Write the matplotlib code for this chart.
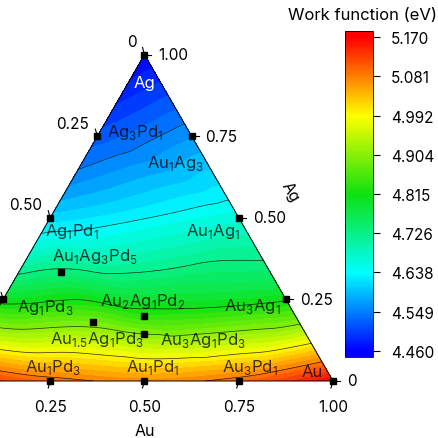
import numpy as np
import matplotlib
matplotlib.use('Agg')
import matplotlib.pyplot as plt
import matplotlib.tri as mtri
from matplotlib.colors import LinearSegmentedColormap, Normalize
from matplotlib.cm import ScalarMappable

plt.rcParams['font.family'] = ['Inter', 'DejaVu Sans']

# measured compositions (atomic ratios) and their work function (eV)
names = ['Ag', 'Ag3Pd1', 'Au1Ag3', 'Ag1Pd1', 'Au1Ag1', 'Au1Ag3Pd5', 'Ag1Pd3',
         'Au2Ag1Pd2', 'Au3Ag1', 'Au1.5Ag1Pd3', 'Au3Ag1Pd3', 'Au1Pd3', 'Au1Pd1',
         'Au3Pd1', 'Au', 'Pd']
au = [0, 0, 1, 0, 1, 1, 0, 2, 3, 1.5, 3, 1, 1, 3, 1, 0]
ag = [1, 3, 3, 1, 1, 3, 1, 1, 1, 1, 1, 0, 0, 0, 0, 0]
pd_ = [0, 1, 0, 1, 0, 5, 3, 2, 0, 3, 3, 3, 1, 1, 0, 1]
wf = [4.46, 4.52, 4.565, 4.61, 4.665, 4.735, 4.80, 4.835, 4.81, 4.885, 4.905,
      5.095, 5.07, 5.095, 5.17, 5.15]

cb_ticks = [4.460, 4.549, 4.638, 4.726, 4.815, 4.904, 4.992, 5.081, 5.170]
axis_ticks = [0, 0.25, 0.50, 0.75, 1.00]
axis_ticklabels = ['0', '0.25', '0.50', '0.75', '1.00']

# label text and offset (pixels) from the marker
label_style = {
    'Ag': (r'Ag', (0, -28), 'white'),
    'Ag3Pd1': (r'Ag$_\mathregular{3}$Pd$_\mathregular{1}$', (38, 5), 'k'),
    'Au1Ag3': (r'Au$_\mathregular{1}$Ag$_\mathregular{3}$', (-16, -26), 'k'),
    'Ag1Pd1': (r'Ag$_\mathregular{1}$Pd$_\mathregular{1}$', (22, -13), 'k'),
    'Au1Ag1': (r'Au$_\mathregular{1}$Ag$_\mathregular{1}$', (-26, -13), 'k'),
    'Au1Ag3Pd5': (r'Au$_\mathregular{1}$Ag$_\mathregular{3}$Pd$_\mathregular{5}$', (34, 17), 'k'),
    'Ag1Pd3': (r'Ag$_\mathregular{1}$Pd$_\mathregular{3}$', (42, -7), 'k'),
    'Au2Ag1Pd2': (r'Au$_\mathregular{2}$Ag$_\mathregular{1}$Pd$_\mathregular{2}$', (-2, 15), 'k'),
    'Au3Ag1': (r'Au$_\mathregular{3}$Ag$_\mathregular{1}$', (-33, -6), 'k'),
    'Au1.5Ag1Pd3': (r'Au$_\mathregular{1.5}$Ag$_\mathregular{1}$Pd$_\mathregular{3}$', (4, -17), 'k'),
    'Au3Ag1Pd3': (r'Au$_\mathregular{3}$Ag$_\mathregular{1}$Pd$_\mathregular{3}$', (58, -5), 'k'),
    'Au1Pd3': (r'Au$_\mathregular{1}$Pd$_\mathregular{3}$', (3, 14), 'k'),
    'Au1Pd1': (r'Au$_\mathregular{1}$Pd$_\mathregular{1}$', (8, 14), 'k'),
    'Au3Pd1': (r'Au$_\mathregular{3}$Pd$_\mathregular{1}$', (11, 14), 'k'),
    'Au': (r'Au', (-21, 9), 'k'),
}

# ternary -> cartesian
tot = np.array(au) + np.array(ag) + np.array(pd_)
fa = np.array(au) / tot
fg = np.array(ag) / tot
x = fa + fg / 2
y = fg * np.sqrt(3) / 2

cmap = LinearSegmentedColormap.from_list(
    'wf', [(0, '#0000ff'), (0.25, '#00ffff'), (0.5, '#10e010'),
           (0.75, '#ffff00'), (1, '#ff0000')])
norm = Normalize(vmin=4.46, vmax=5.17)

W = 439
fig = plt.figure(figsize=(4.39, 4.39), dpi=100)
scale = 377.0
ax = fig.add_axes([-44 / W, 57 / W, scale / W, scale * np.sqrt(3) / 2 / W])
ax.set_xlim(0, 1)
ax.set_ylim(0, np.sqrt(3) / 2)
ax.axis('off')

tri = mtri.Triangulation(x, y)
interp = mtri.CubicTriInterpolator(tri, wf, kind='geom')
tri_f, wf_f = mtri.UniformTriRefiner(tri).refine_field(wf, interp, subdiv=5)
ax.tricontourf(tri_f, wf_f, levels=np.linspace(4.46, 5.17, 41), cmap=cmap,
               norm=norm, extend='both')
ax.tricontour(tri_f, wf_f, levels=cb_ticks[1:-1], colors='k', linewidths=0.5,
              alpha=0.8)

h = np.sqrt(3) / 2
ax.plot([0, 1, 0.5, 0], [0, 0, h, 0], color='k', lw=0.7, clip_on=False)

# markers + labels
for i, n in enumerate(names):
    if n == 'Pd':
        continue
    ax.plot(x[i], y[i], 's', color='k', ms=5, clip_on=False, zorder=5)
    txt, off, col = label_style[n]
    ax.annotate(txt, (x[i], y[i]), xytext=off, textcoords='offset pixels',
                ha='center', va='center', fontsize=12, color=col,
                alpha=1 if col == 'white' else 0.75, zorder=6)

px = 1 / scale
for t, lab in zip(axis_ticks, axis_ticklabels):
    # bottom (Au)
    bx, by = t, 0
    ax.plot([bx, bx - 2 * px], [by, by - 7 * px], color='k', lw=0.8, clip_on=False)
    if t > 0:
        ax.annotate(lab, (bx, by), xytext=(0, -26), textcoords='offset pixels',
                    ha='center', va='center', fontsize=11)
    # right (Ag)
    rx, ry = 1 - t / 2, t * h
    ax.plot([rx, rx + 7 * px], [ry, ry], color='k', lw=0.8, clip_on=False)
    ax.annotate(lab, (rx, ry), xytext=(14, 0), textcoords='offset pixels',
                ha='left', va='center', fontsize=11)
    # left (Pd) - only the part inside the picture
    lx, ly = (1 - t) / 2, (1 - t) * h
    ax.plot([lx, lx - 2 * px], [ly, ly + 7 * px], color='k', lw=0.8, clip_on=False)
    if t <= 0.5:
        ax.annotate(lab, (lx, ly), xytext=(-8, 13), textcoords='offset pixels',
                    ha='right', va='center', fontsize=11)

ax.annotate('Au', (0.5, 0), xytext=(0, -50), textcoords='offset pixels',
            ha='center', va='center', fontsize=11.5)
ax.annotate('Ag', (0.75, h / 2), xytext=(52, 27), textcoords='offset pixels',
            ha='center', va='center', fontsize=11.5, rotation=-60)

# colorbar
cax = fig.add_axes([345 / W, (W - 358) / W, 28 / W, 326 / W])
cb = fig.colorbar(ScalarMappable(norm=norm, cmap=cmap), cax=cax,
                  ticks=cb_ticks, extend='both', extendrect=True,
                  extendfrac=0.019)
cb.ax.set_yticklabels(['%.3f' % v for v in cb_ticks])
cb.ax.tick_params(labelsize=11, length=5, width=0.8, pad=8)
cb.outline.set_linewidth(0.6)
fig.text(363 / W, 1 - 15 / W, 'Work function (eV)', ha='center', va='center',
         fontsize=12)

fig.savefig('out.png', dpi=100)
